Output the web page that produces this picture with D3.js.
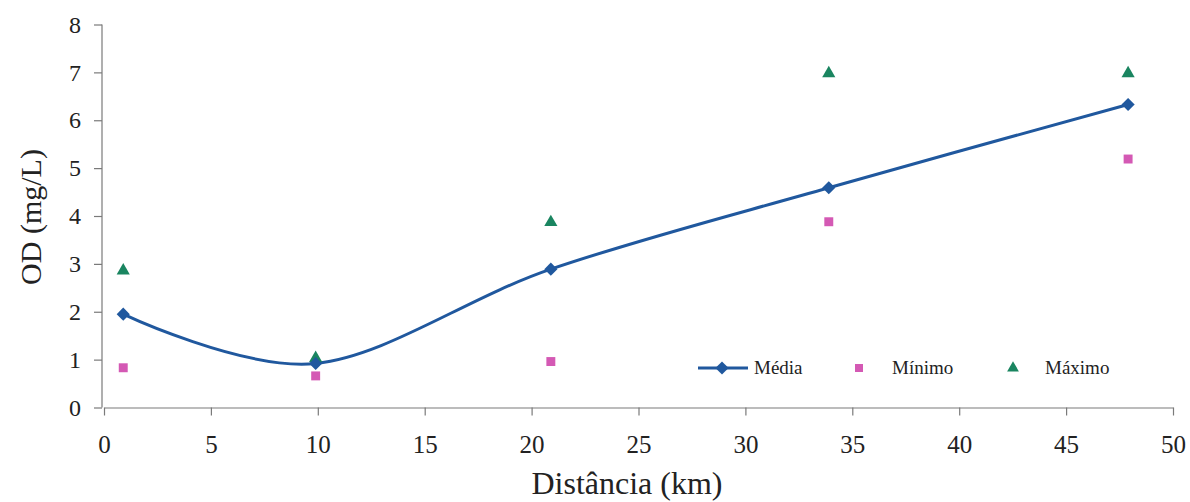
<!DOCTYPE html>
<html>
<head>
<meta charset="utf-8">
<script src="https://cdn.jsdelivr.net/npm/d3@7"></script>
<style>
  html, body { margin: 0; padding: 0; background: #ffffff; }
  svg { display: block; }
</style>
</head>
<body>
<svg id="chart" width="1190" height="502"></svg>
<script>
// Dissolved oxygen (OD) along the river, by distance
const distances = [0.9, 9.9, 20.9, 33.9, 47.9];
const media = [1.95, 0.92, 2.89, 4.59, 6.33];
const minimo = [0.83, 0.66, 0.96, 3.88, 5.19];
const maximo = [2.86, 1.03, 3.87, 6.98, 6.98];
const xTicks = [0, 5, 10, 15, 20, 25, 30, 35, 40, 45, 50];
const yTicks = [0, 1, 2, 3, 4, 5, 6, 7, 8];
const legendLabels = ["Média", "Mínimo", "Máximo"];

const colors = { media: "#20589e", minimo: "#d459b4", maximo: "#1a8560", axis: "#7a7a7a", text: "#222" };
const font = "Liberation Serif, Times New Roman, serif";

const svg = d3.select("#chart");
const x = d3.scaleLinear().domain([0, 50]).range([104, 1173]);
const y = d3.scaleLinear().domain([0, 8]).range([407.5, 24.5]);

// Axes
const xAxis = d3.axisBottom(x).tickValues(xTicks).tickSize(8).tickPadding(20).tickSizeOuter(0);
const yAxis = d3.axisLeft(y).tickValues(yTicks).tickSize(8).tickPadding(13).tickSizeOuter(0);

const gx = svg.append("g").attr("transform", `translate(0,${y(0)})`).call(xAxis);
const gy = svg.append("g").attr("transform", `translate(${x(0) - 2},0)`).call(yAxis);

[gx, gy].forEach(g => {
  g.attr("font-family", font).attr("font-size", 24);
  g.select(".domain").attr("stroke", colors.axis).attr("stroke-width", 1.2);
  g.selectAll(".tick line").attr("stroke", colors.axis).attr("stroke-width", 1.2);
  g.selectAll(".tick text").attr("fill", colors.text);
});
gx.selectAll(".tick text").attr("font-size", 25);
gy.select(".domain").attr("d", `M0,${y(0)}V${y(8)}`);

// Axis titles
svg.append("text")
  .attr("x", 627).attr("y", 494)
  .attr("text-anchor", "middle")
  .attr("fill", colors.text)
  .attr("font-family", font).attr("font-size", 32)
  .text("Distância (km)");

svg.append("text")
  .attr("transform", `translate(41,${y(4) + 1}) rotate(-90)`)
  .attr("text-anchor", "middle")
  .attr("fill", colors.text)
  .attr("font-family", font).attr("font-size", 30)
  .text("OD (mg/L)");

// Smoothed mean line
const pts = distances.map((d, i) => [d, media[i]]);
const line = d3.line().x(d => x(d[0])).y(d => y(d[1])).curve(d3.curveCardinal.tension(0));
svg.append("path")
  .attr("d", line(pts))
  .attr("fill", "none")
  .attr("stroke", colors.media)
  .attr("stroke-width", 3);

const diamond = d3.symbol().type(d3.symbolDiamond2).size(110);
const square = d3.symbol().type(d3.symbolSquare).size(80);
const triangle = d3.symbol().type(d3.symbolTriangle).size(75);

svg.append("g").selectAll("path").data(maximo).join("path")
  .attr("transform", (d, i) => `translate(${x(distances[i])},${y(d)})`)
  .attr("d", triangle).attr("fill", colors.maximo);

svg.append("g").selectAll("path").data(minimo).join("path")
  .attr("transform", (d, i) => `translate(${x(distances[i])},${y(d)})`)
  .attr("d", square).attr("fill", colors.minimo);

svg.append("g").selectAll("path").data(media).join("path")
  .attr("transform", (d, i) => `translate(${x(distances[i])},${y(d)})`)
  .attr("d", diamond).attr("fill", colors.media);

// Legend
const lg = svg.append("g").attr("transform", "translate(0,368)");
lg.append("line").attr("x1", 698).attr("x2", 748).attr("y1", 0).attr("y2", 0)
  .attr("stroke", colors.media).attr("stroke-width", 3);
lg.append("path").attr("transform", "translate(722,0)").attr("d", diamond).attr("fill", colors.media);
lg.append("path").attr("transform", "translate(859,0)").attr("d", d3.symbol().type(d3.symbolSquare).size(64)).attr("fill", colors.minimo);
lg.append("path").attr("transform", "translate(1013,0)").attr("d", d3.symbol().type(d3.symbolTriangle).size(60)).attr("fill", colors.maximo);
const legendX = [754, 892, 1045];
lg.selectAll("text.lbl").data(legendLabels).join("text")
  .attr("class", "lbl")
  .attr("x", (d, i) => legendX[i]).attr("y", 6)
  .attr("fill", colors.text)
  .attr("font-family", font).attr("font-size", 19)
  .text(d => d);
</script>
</body>
</html>
